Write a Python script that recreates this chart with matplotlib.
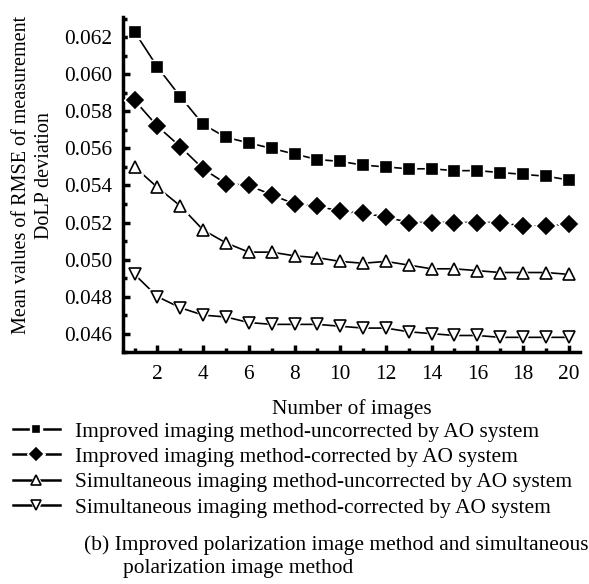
import matplotlib
matplotlib.use("Agg")
import matplotlib.pyplot as plt
from matplotlib.lines import Line2D
from matplotlib.legend_handler import HandlerTuple
from matplotlib.ticker import MultipleLocator

plt.rcParams["font.family"] = "Liberation Serif"
FS = 15.4

# Data
n_images = list(range(1, 21))
improved_uncorrected = [0.0623, 0.0604, 0.0588, 0.0573, 0.0566, 0.0563, 0.0560, 0.0557, 0.0554, 0.0553,
                        0.0551, 0.0550, 0.0549, 0.0549, 0.0548, 0.0548, 0.0547, 0.0546, 0.0545, 0.0543]
improved_corrected = [0.0586, 0.0572, 0.0561, 0.0549, 0.0541, 0.0540, 0.0535, 0.0530, 0.0529, 0.0526,
                      0.0525, 0.0523, 0.0520, 0.0520, 0.0520, 0.0520, 0.0520, 0.0518, 0.0518, 0.0519]
simult_uncorrected = [0.0550, 0.0539, 0.0529, 0.0516, 0.0509, 0.0504, 0.0504, 0.0502, 0.0501, 0.0499,
                      0.0498, 0.0499, 0.0497, 0.0495, 0.0495, 0.0494, 0.0493, 0.0493, 0.0493, 0.0492]
simult_corrected = [0.0492, 0.0480, 0.0474, 0.0470, 0.0469, 0.0466, 0.0465, 0.0465, 0.0465, 0.0464,
                    0.0463, 0.0463, 0.0461, 0.0460, 0.0459, 0.0459, 0.0458, 0.0458, 0.0458, 0.0458]
y_ticks = [0.046, 0.048, 0.050, 0.052, 0.054, 0.056, 0.058, 0.060, 0.062]
x_ticks = [2, 4, 6, 8, 10, 12, 14, 16, 18, 20]

labels = [
    "Improved imaging method-uncorrected by AO system",
    "Improved imaging method-corrected by AO system",
    "Simultaneous imaging method-uncorrected by AO system",
    "Simultaneous imaging method-corrected by AO system",
]
series = [improved_uncorrected, improved_corrected, simult_uncorrected, simult_corrected]
markers = ["s", "D", "^", "v"]
sizes = [7, 8, 9, 9]
faces = ["black", "black", "white", "white"]

fig = plt.figure(figsize=(5.89, 5.84), dpi=100)
ax = fig.add_axes([0.209, 0.397, 0.776, 0.574])

handles = []
for vals, m, ms, fc in zip(series, markers, sizes, faces):
    # line, then a white halo so the line stops short of each marker, then the marker
    ax.plot(n_images, vals, color="black", lw=1.2, zorder=2)
    ax.plot(n_images, vals, ls="none", marker=m, ms=ms + 3, mfc="white", mec="white", zorder=3)
    ax.plot(n_images, vals, ls="none", marker=m, ms=ms, mfc=fc, mec="black", mew=1.2, zorder=4)
    handles.append((
        Line2D([], [], color="black", lw=1.8),
        Line2D([], [], color="white", ls="none", marker=m, ms=ms + 1, mfc="white", mec="white"),
        Line2D([], [], color="black", ls="none", marker=m, ms=ms - 2, mfc=fc, mec="black", mew=1.2),
    ))

ax.set_xlim(0.5, 20.5)
ax.set_ylim(0.045, 0.0631)
ax.set_xticks(x_ticks)
ax.xaxis.set_minor_locator(MultipleLocator(1))
ax.set_yticks(y_ticks)
ax.set_yticklabels([f"{v:.3f}" for v in y_ticks])
ax.yaxis.set_minor_locator(MultipleLocator(0.001))

for s in ["top", "right"]:
    ax.spines[s].set_visible(False)
for s in ["left", "bottom"]:
    ax.spines[s].set_linewidth(2.5)
ax.tick_params(which="major", direction="in", length=5, width=2.5, labelsize=FS)
ax.tick_params(axis="x", which="major", pad=9)
ax.tick_params(axis="y", which="major", pad=8)
ax.tick_params(which="minor", direction="in", length=3, width=2.5)

ax.set_xlabel("Number of images", fontsize=FS, labelpad=11)
fig.text(0.056, 0.70, "Mean values of RMSE of measurement\nDoLP deviation", rotation=90,
         ha="center", va="center", multialignment="center", fontsize=14.5, linespacing=1.3)

fig.legend(handles, labels, handler_map={tuple: HandlerTuple(ndivide=1)},
           loc="upper left", bbox_to_anchor=(0.022, 0.278), frameon=False,
           fontsize=FS, handlelength=2.2, handletextpad=0.7, labelspacing=0.25,
           borderaxespad=0, borderpad=0)

fig.text(0.143, 0.067, "(b) Improved polarization image method and simultaneous",
         fontsize=FS, ha="left", va="center")
fig.text(0.209, 0.026, "polarization image method", fontsize=FS, ha="left", va="center")

fig.savefig("out.png", dpi=100)
